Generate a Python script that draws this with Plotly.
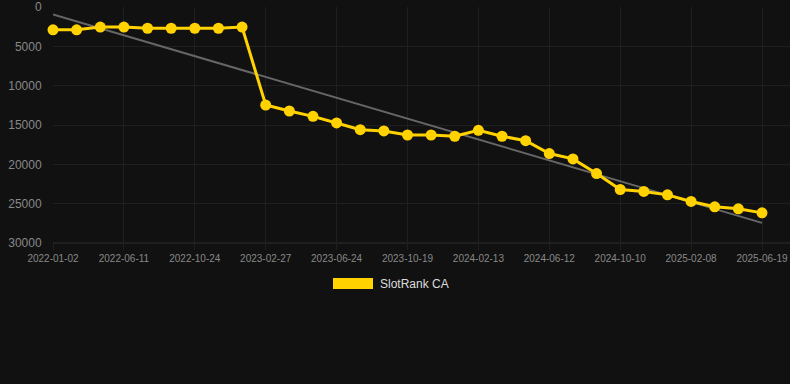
import plotly.graph_objects as go

dates = [
    "2022-01-02", "2022-02-24", "2022-04-18", "2022-06-11", "2022-07-26", "2022-09-09",
    "2022-10-24", "2022-12-05", "2023-01-15", "2023-02-27", "2023-04-05", "2023-05-15",
    "2023-06-24", "2023-07-31", "2023-09-10", "2023-10-19", "2023-11-25", "2024-01-03",
    "2024-02-13", "2024-03-22", "2024-05-02", "2024-06-12", "2024-07-20", "2024-08-30",
    "2024-10-10", "2024-11-19", "2024-12-30", "2025-02-08", "2025-03-22", "2025-05-05",
    "2025-06-19",
]
rank = [
    2900, 2900, 2550, 2550, 2700, 2700, 2700, 2700, 2550,
    12460, 13220, 13900, 14740, 15590, 15760, 16270, 16270, 16430, 15670, 16430,
    17000, 18630, 19310, 21170, 23200, 23450, 23880, 24720, 25400, 25660, 26170,
]
trend_ends = [950, 27440]
series_name = "SlotRank CA"
y_ticks = [0, 5000, 10000, 15000, 20000, 25000, 30000]

gold = "#FFD200"
bg = "#111111"
grid = "#1f1f1f"

fig = go.Figure()
fig.add_trace(go.Scatter(
    x=[dates[0], dates[-1]], y=trend_ends, mode="lines",
    line=dict(color="#666666", width=2), hoverinfo="skip", showlegend=False,
))
fig.add_trace(go.Scatter(
    x=dates, y=rank, mode="lines+markers", name=series_name,
    line=dict(color=gold, width=3), marker=dict(color=gold, size=11),
    showlegend=False, cliponaxis=False,
))

left, right, top, bottom = 53, 790, 7, 243
W, H = 790, 384
pw = right - left
ph = bottom - top

def px_x(p):
    return (p - left) / pw

def px_y(p):
    return (bottom - p) / ph

fig.add_shape(type="rect", xref="paper", yref="paper",
              x0=px_x(333), x1=px_x(373), y0=px_y(289), y1=px_y(278),
              fillcolor=gold, line=dict(width=0))
fig.add_annotation(xref="paper", yref="paper", x=px_x(378), y=px_y(284),
                   text=series_name, showarrow=False, xanchor="left", yanchor="middle",
                   font=dict(color="#dddddd", size=12, family="Liberation Sans, Arial"))

fig.update_layout(
    width=W, height=H,
    margin=dict(l=left, r=W - right, t=top, b=H - bottom),
    paper_bgcolor=bg, plot_bgcolor=bg,
    font=dict(family="Liberation Sans, Arial", color="#888888"),
    xaxis=dict(
        type="category", categoryorder="array", categoryarray=dates,
        range=[0, 30 + (790 - 762) / 23.63],
        tickmode="array", tickvals=dates[::3], ticktext=dates[::3],
        showgrid=True, gridcolor=grid, gridwidth=1,
        ticks="outside", ticklen=6, tickcolor=grid,
        tickfont=dict(size=10, color="#888888"),
        showline=False, zeroline=False, tickangle=0,
    ),
    yaxis=dict(
        range=[30000, 0], tickmode="array", tickvals=y_ticks,
        ticktext=[str(v) for v in y_ticks],
        showgrid=True, gridcolor=grid, gridwidth=1,
        tickfont=dict(size=12, color="#888888"),
        ticks="outside", ticklen=8, tickcolor=bg,
        zeroline=False, showline=False,
    ),
)
fig.add_shape(type="line", xref="paper", yref="paper", x0=0, x1=1, y0=0, y1=0,
              line=dict(color="#2e2e2e", width=1), layer="below")

fig.write_html(
    "out.html",
    config={"displayModeBar": False},
    post_script="document.body.style.margin='0';document.body.style.background='#111111';",
)
